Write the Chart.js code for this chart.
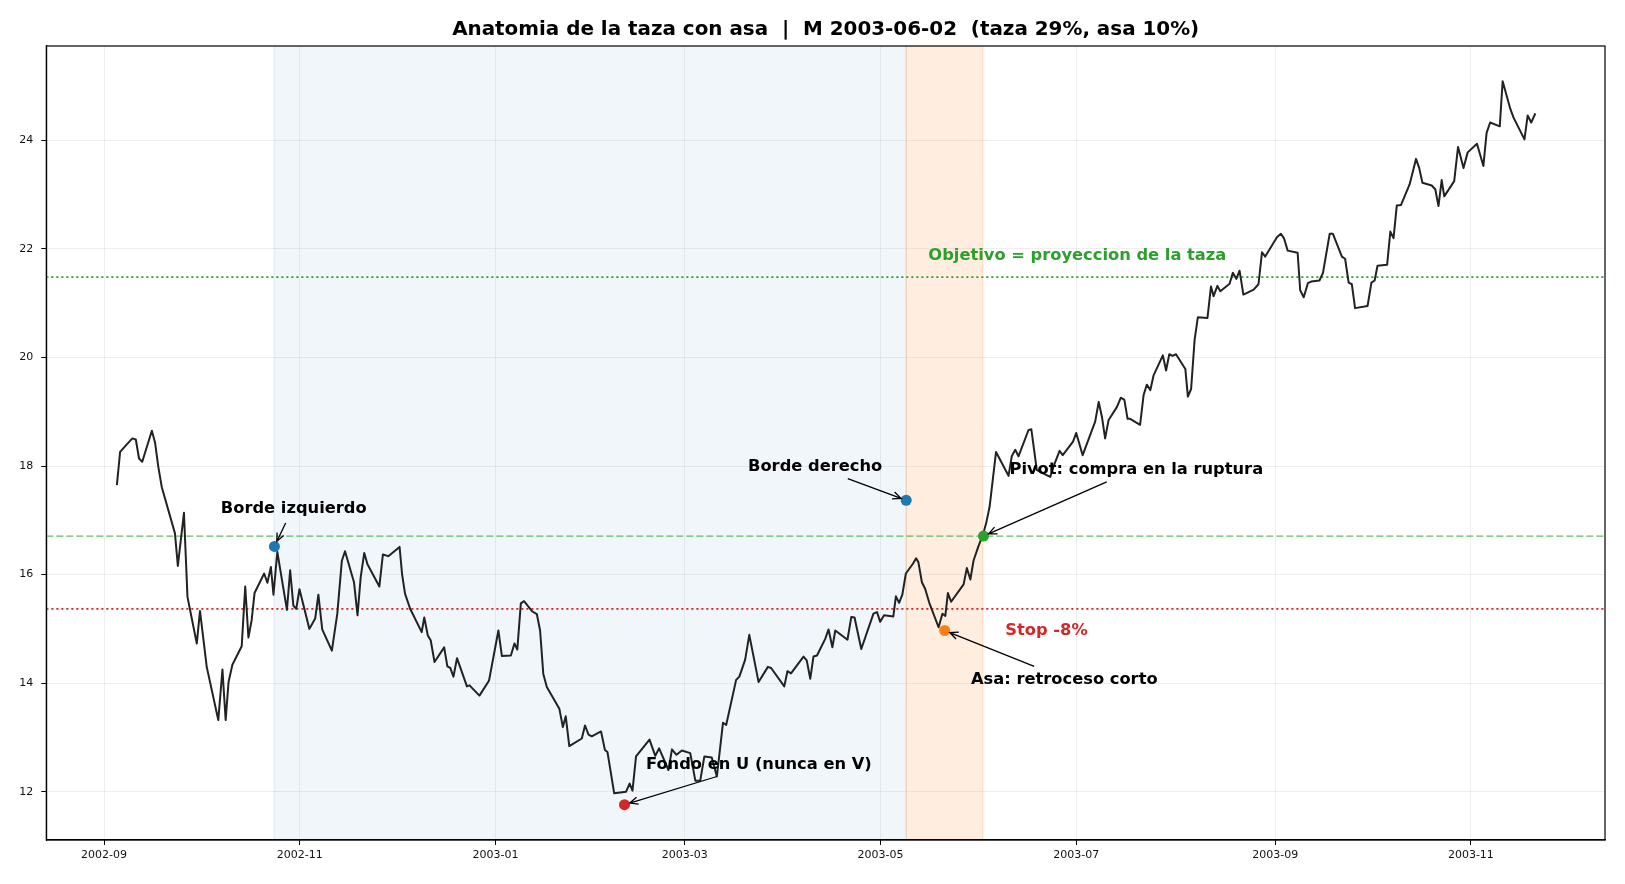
<!DOCTYPE html>
<html>
<head>
<meta charset="utf-8">
<title>Taza con asa</title>
<script src="https://cdn.jsdelivr.net/npm/chart.js@4.4.0/dist/chart.umd.min.js"></script>
<style>
  html, body { margin: 0; padding: 0; background: #fff; }
  #wrap { width: 1625px; height: 884px; }
</style>
</head>
<body>
<div id="wrap"><canvas id="chart" width="1625" height="884"></canvas></div>
<script>
const FONT = "'DejaVu Sans', 'Liberation Sans', sans-serif"
const TITLE = 'Anatomia de la taza con asa  |  M 2003-06-02  (taza 29%, asa 10%)'

// x values are days since 2002-09-01
const tickDays = [0, 61, 122, 181, 242, 303, 365, 426]
const tickLabels = ['2002-09', '2002-11', '2003-01', '2003-03', '2003-05', '2003-07', '2003-09', '2003-11']
const yTicks = [12, 14, 16, 18, 20, 22, 24]
const xRange = [-18, 467.8]
const yRange = [11.11, 25.74]

const days = [
  4.0, 5.0, 8.8, 9.9, 10.9, 11.9, 14.9, 15.9, 16.9, 18.0, 22.1, 23.0, 24.9, 26.0, 28.9, 29.9,
  32.0, 35.6, 36.9, 37.9, 38.8, 40.0, 42.9, 44.0, 45.0, 46.0, 46.9, 49.9, 50.9, 52.0, 52.8, 54.0,
  57.0, 58.0, 59.0, 59.9, 60.9, 64.0, 65.8, 66.8, 68.0, 71.0, 72.7, 74.1, 75.1, 77.9, 79.0, 80.0,
  81.1, 82.1, 85.8, 86.9, 88.6, 92.1, 92.9, 93.8, 95.4, 99.0, 99.8, 100.9, 101.8, 103.0, 106.0, 107.0,
  107.9, 108.9, 110.0, 113.1, 113.9, 117.0, 120.0, 122.9, 124.0, 126.8, 127.9, 128.8, 129.9, 130.9, 133.5, 134.9,
  135.9, 136.9, 138.0, 141.9, 143.0, 143.9, 145.0, 148.9, 149.9, 151.0, 152.0, 154.9, 156.1, 156.9, 159.0, 162.7,
  163.8, 164.7, 165.8, 170.0, 171.8, 173.0, 175.9, 177.0, 178.4, 180.1, 182.7, 184.3, 185.8, 187.1, 189.4, 191.0,
  192.9, 193.9, 197.0, 198.0, 199.8, 201.1, 204.0, 206.9, 207.9, 212.0, 213.0, 214.1, 218.0, 219.0, 220.1, 221.1,
  222.2, 224.8, 225.8, 227.0, 227.9, 231.7, 232.9, 233.9, 236.0, 239.8, 240.9, 241.9, 243.1, 246.0, 246.8, 247.8,
  248.8, 249.9, 252.1, 253.1, 253.8, 254.9, 255.9, 257.2, 260.1, 261.3, 262.2, 263.0, 264.0, 267.9, 268.9, 270.0,
  271.0, 272.5, 273.9, 274.9, 276.0, 278.0, 281.9, 282.9, 284.0, 285.0, 288.1, 289.0, 290.7, 292.8, 294.9, 295.9,
  297.8, 298.8, 302.0, 303.0, 305.0, 308.9, 310.0, 311.0, 312.0, 313.1, 315.7, 316.9, 318.0, 319.0, 319.8, 322.9,
  324.0, 325.0, 326.1, 327.1, 330.0, 331.0, 332.0, 333.0, 334.1, 337.0, 337.8, 338.8, 339.9, 340.9, 343.9, 345.0,
  345.8, 347.0, 347.9, 350.8, 351.8, 352.9, 353.9, 355.1, 358.3, 359.8, 360.9, 361.9, 365.6, 366.8, 367.8, 368.9,
  372.0, 372.8, 373.9, 375.2, 376.2, 378.8, 379.9, 382.0, 383.0, 385.8, 386.8, 387.9, 388.9, 389.9, 393.8, 395.0,
  396.0, 396.9, 399.9, 400.9, 401.9, 402.9, 404.2, 406.9, 408.9, 409.9, 410.9, 413.8, 414.9, 415.9, 416.9, 417.7,
  420.8, 422.0, 423.7, 425.0, 427.9, 429.9, 430.9, 432.0, 435.0, 435.9, 438.3, 439.3, 442.7, 443.7, 444.8, 446.1
]
const prices = [
  17.65, 18.26, 18.51, 18.49, 18.14, 18.08, 18.65, 18.43, 17.99, 17.61, 16.76, 16.16, 17.14, 15.59, 14.73, 15.33,
  14.30, 13.32, 14.25, 13.32, 14.02, 14.34, 14.68, 15.78, 14.84, 15.16, 15.66, 16.02, 15.85, 16.14, 15.63, 16.42,
  15.35, 16.08, 15.43, 15.37, 15.73, 15.00, 15.19, 15.63, 14.99, 14.60, 15.28, 16.25, 16.43, 15.86, 15.25, 15.96,
  16.40, 16.19, 15.78, 16.37, 16.34, 16.51, 16.00, 15.65, 15.37, 14.94, 15.21, 14.88, 14.79, 14.39, 14.66, 14.31,
  14.28, 14.12, 14.46, 13.94, 13.96, 13.77, 14.05, 14.97, 14.50, 14.51, 14.73, 14.62, 15.47, 15.51, 15.32, 15.27,
  14.97, 14.17, 13.93, 13.53, 13.19, 13.39, 12.84, 12.98, 13.22, 13.05, 13.02, 13.11, 12.77, 12.73, 11.97, 12.00,
  12.15, 12.02, 12.65, 12.96, 12.66, 12.80, 12.40, 12.78, 12.68, 12.76, 12.71, 12.20, 12.20, 12.65, 12.63, 12.28,
  13.27, 13.23, 14.06, 14.12, 14.43, 14.89, 14.02, 14.30, 14.28, 13.94, 14.22, 14.18, 14.49, 14.42, 14.08, 14.49,
  14.51, 14.82, 14.99, 14.66, 14.97, 14.80, 15.22, 15.21, 14.63, 15.28, 15.31, 15.13, 15.25, 15.23, 15.60, 15.48,
  15.63, 16.02, 16.20, 16.30, 16.23, 15.86, 15.74, 15.48, 15.03, 15.28, 15.24, 15.66, 15.50, 15.82, 16.12, 15.91,
  16.26, 16.52, 16.73, 16.94, 17.25, 18.26, 17.82, 18.18, 18.30, 18.18, 18.66, 18.68, 17.93, 17.86, 17.80, 17.99,
  18.28, 18.20, 18.45, 18.61, 18.20, 18.82, 19.18, 18.91, 18.51, 18.85, 19.09, 19.26, 19.22, 18.87, 18.87, 18.76,
  19.31, 19.50, 19.40, 19.67, 20.04, 19.76, 20.06, 20.03, 20.06, 19.79, 19.28, 19.42, 20.33, 20.74, 20.73, 21.31,
  21.13, 21.32, 21.22, 21.36, 21.56, 21.45, 21.60, 21.16, 21.25, 21.35, 21.94, 21.86, 22.22, 22.28, 22.19, 21.97,
  21.93, 21.24, 21.11, 21.37, 21.40, 21.42, 21.56, 22.28, 22.28, 21.86, 21.82, 21.38, 21.35, 20.91, 20.95, 21.38,
  21.42, 21.69, 21.71, 22.32, 22.20, 22.80, 22.81, 23.19, 23.66, 23.49, 23.22, 23.17, 23.10, 22.79, 23.27, 22.97,
  23.25, 23.88, 23.49, 23.78, 23.94, 23.53, 24.14, 24.33, 24.26, 25.09, 24.58, 24.42, 24.02, 24.46, 24.33, 24.50
]

// key points: borde izquierdo, borde derecho, fondo, asa, pivot
const pointDays = [53.1, 250.0, 162.2, 262.0, 274.1]
const pointPrices = [16.52, 17.37, 11.76, 14.97, 16.71]
const pointColors = ['#1f77b4', '#1f77b4', '#d62728', '#ff7f0e', '#2ca02c']

const cupDays = [53.0, 250.0]
const handleDays = [250.0, 273.9]

const targetLevel = 21.48
const pivotLevel = 16.71
const stopLevel = 15.37

// annotations (text anchored left/baseline, in data coords)
const noteTexts = ['Borde izquierdo', 'Borde derecho', 'Pivot: compra en la ruptura', 'Stop -8%',
  'Asa: retroceso corto', 'Fondo en U (nunca en V)', 'Objetivo = proyeccion de la taza']
const noteDays = [36.4, 200.7, 282.2, 280.9, 270.2, 168.9, 256.9]
const notePrices = [17.13, 17.91, 17.85, 14.89, 13.98, 12.42, 21.79]
const arrowDays = [56.6, 231.8, 312.5, null, 289.9, 191.0, null]
const arrowPrices = [16.95, 17.77, 17.71, null, 14.31, 12.28, null]
const arrowTarget = [0, 1, 4, null, 3, 2, null]
const noteColors = ['#000', '#000', '#000', '#d62728', '#000', '#000', '#2ca02c']

function levelLine(value) {
  return [{ x: xRange[0], y: value }, { x: xRange[1], y: value }]
}

function drawArrow(ctx, x0, y0, x1, y1) {
  const a = Math.atan2(y1 - y0, x1 - x0)
  const len = 9, spread = 0.42
  ctx.beginPath()
  ctx.moveTo(x0, y0)
  ctx.lineTo(x1, y1)
  ctx.moveTo(x1 - len * Math.cos(a - spread), y1 - len * Math.sin(a - spread))
  ctx.lineTo(x1, y1)
  ctx.lineTo(x1 - len * Math.cos(a + spread), y1 - len * Math.sin(a + spread))
  ctx.stroke()
}

const backdrop = {
  id: 'backdrop',
  beforeDraw(chart) {
    const { ctx, chartArea: area, scales: { x } } = chart
    ctx.save()
    ctx.fillStyle = '#fff'
    ctx.fillRect(0, 0, chart.width, chart.height)
    const bands = [
      [cupDays, 'rgba(31,119,180,0.065)', 'rgba(31,119,180,0.12)'],
      [handleDays, 'rgba(255,127,14,0.13)', 'rgba(255,127,14,0.25)']
    ]
    bands.forEach(([range, fill, edge]) => {
      const x0 = x.getPixelForValue(range[0])
      const x1 = x.getPixelForValue(range[1])
      ctx.fillStyle = fill
      ctx.fillRect(x0, area.top, x1 - x0, area.bottom - area.top)
      ctx.strokeStyle = edge
      ctx.lineWidth = 1
      ctx.beginPath()
      ctx.moveTo(x0, area.top); ctx.lineTo(x0, area.bottom)
      ctx.moveTo(x1, area.top); ctx.lineTo(x1, area.bottom)
      ctx.stroke()
    })
    ctx.restore()
  }
}

const notes = {
  id: 'notes',
  afterDraw(chart) {
    const { ctx, chartArea: area, scales: { x, y } } = chart
    ctx.save()

    // frame
    ctx.strokeStyle = '#000'
    ctx.lineWidth = 1.2
    ctx.strokeRect(area.left, area.top, area.right - area.left, area.bottom - area.top)

    // title
    ctx.fillStyle = '#000'
    ctx.font = `bold 19.9px ${FONT}`
    ctx.textAlign = 'center'
    ctx.textBaseline = 'alphabetic'
    ctx.fillText(TITLE, (area.left + area.right) / 2, 35)

    ctx.font = `bold 16.3px ${FONT}`
    ctx.textAlign = 'left'
    noteTexts.forEach((text, i) => {
      ctx.fillStyle = noteColors[i]
      ctx.fillText(text, x.getPixelForValue(noteDays[i]), y.getPixelForValue(notePrices[i]))
      if (arrowTarget[i] === null) return
      const x0 = x.getPixelForValue(arrowDays[i])
      const y0 = y.getPixelForValue(arrowPrices[i])
      const px = x.getPixelForValue(pointDays[arrowTarget[i]])
      const py = y.getPixelForValue(pointPrices[arrowTarget[i]])
      const d = Math.hypot(px - x0, py - y0)
      const shrink = 5.5
      ctx.strokeStyle = '#000'
      ctx.lineWidth = 1.3
      drawArrow(ctx, x0, y0, px - (px - x0) * shrink / d, py - (py - y0) * shrink / d)
    })
    ctx.restore()
  }
}

const gridColor = 'rgba(176,176,176,0.22)'
const tickFont = { family: FONT, size: 11 }

new Chart(document.getElementById('chart'), {
  type: 'line',
  data: {
    datasets: [
      {
        label: 'puntos',
        data: pointDays.map((d, i) => ({ x: d, y: pointPrices[i] })),
        showLine: false,
        pointRadius: 5.5,
        pointBackgroundColor: pointColors,
        pointBorderColor: pointColors,
        pointBorderWidth: 0,
        order: 0
      },
      {
        label: 'precio',
        data: days.map((d, i) => ({ x: d, y: prices[i] })),
        borderColor: '#222',
        borderWidth: 2,
        borderJoinStyle: 'round',
        pointRadius: 0,
        tension: 0,
        order: 1
      },
      {
        label: 'objetivo',
        data: levelLine(targetLevel),
        borderColor: '#2ca02c',
        borderWidth: 1.8,
        borderDash: [2.1, 2.9],
        pointRadius: 0,
        order: 2
      },
      {
        label: 'pivot',
        data: levelLine(pivotLevel),
        borderColor: 'rgba(44,160,44,0.72)',
        borderWidth: 1.3,
        borderDash: [7, 3],
        pointRadius: 0,
        order: 2
      },
      {
        label: 'stop',
        data: levelLine(stopLevel),
        borderColor: '#d62728',
        borderWidth: 1.8,
        borderDash: [2.1, 2.9],
        pointRadius: 0,
        order: 2
      }
    ]
  },
  options: {
    responsive: false,
    devicePixelRatio: 1,
    animation: false,
    layout: { padding: { left: 0, right: 20, top: 46, bottom: 0 } },
    plugins: {
      legend: { display: false },
      title: { display: false },
      tooltip: { enabled: false }
    },
    scales: {
      x: {
        type: 'linear',
        min: xRange[0],
        max: xRange[1],
        afterBuildTicks: scale => { scale.ticks = tickDays.map(v => ({ value: v })) },
        afterFit: scale => { scale.height = 44 },
        grid: { color: gridColor, lineWidth: 1, tickColor: '#000', tickLength: 5 },
        border: { display: true, color: '#000', width: 1.2 },
        ticks: {
          autoSkip: false,
          maxRotation: 0,
          padding: 4,
          color: '#111',
          font: tickFont,
          callback: value => tickLabels[tickDays.indexOf(value)]
        }
      },
      y: {
        min: yRange[0],
        max: yRange[1],
        afterBuildTicks: scale => { scale.ticks = yTicks.map(v => ({ value: v })) },
        afterFit: scale => { scale.width = 46.3 },
        grid: { color: gridColor, lineWidth: 1, tickColor: '#000', tickLength: 5 },
        border: { display: true, color: '#000', width: 1.2 },
        ticks: {
          padding: 8,
          color: '#111',
          font: tickFont,
          callback: value => String(value)
        }
      }
    }
  },
  plugins: [backdrop, notes]
})
</script>
</body>
</html>
